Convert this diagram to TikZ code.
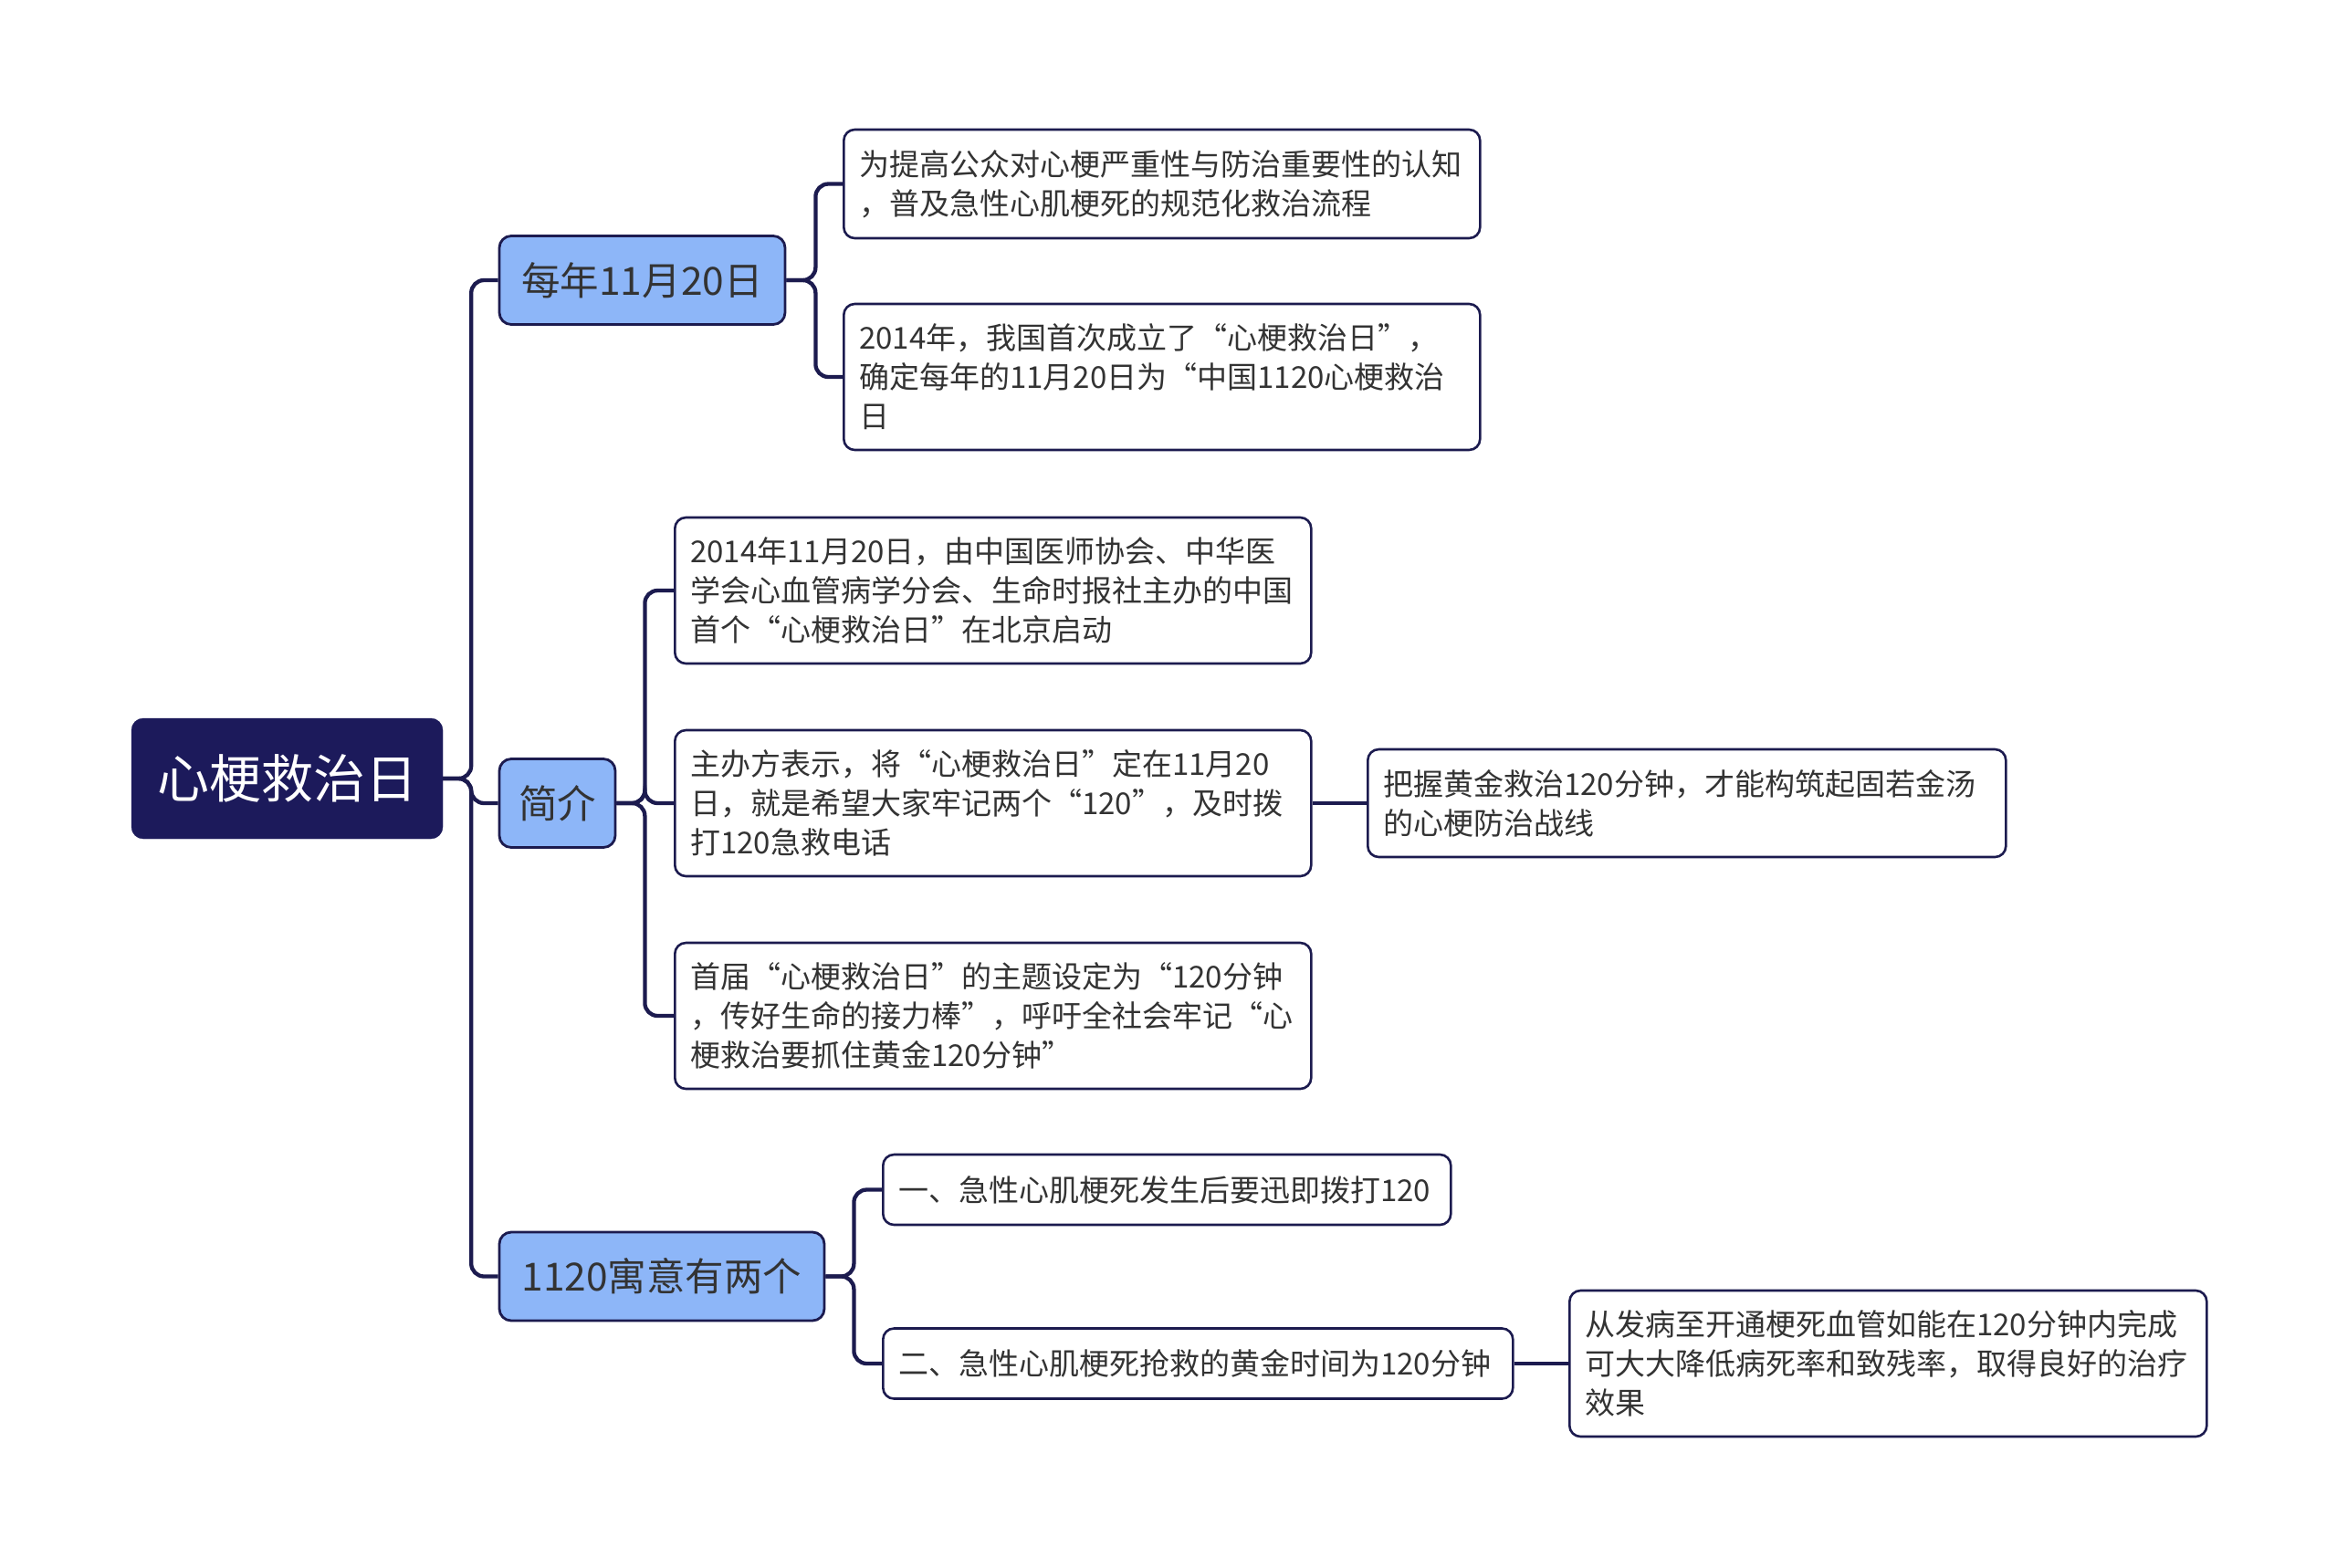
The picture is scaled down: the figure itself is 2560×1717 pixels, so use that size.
\documentclass[tikz,border=0pt]{standalone}
\usepackage{fontspec}
\setmainfont{Noto Sans CJK SC}
\definecolor{rootc}{HTML}{1C1A5B}
\definecolor{linec}{HTML}{1C1B4F}
\definecolor{bluec}{HTML}{8DB6F8}
\definecolor{txtc}{HTML}{333333}
\begin{document}
\begin{tikzpicture}[x=1pt,y=-1pt,
  rootbox/.style={rectangle, rounded corners=13pt, fill=rootc, draw=rootc, text=white,
    font=\fontsize{57}{68}\selectfont, inner sep=0pt, minimum width=341pt, minimum height=132pt},
  lvlbox/.style={rectangle, rounded corners=13pt, fill=bluec, draw=linec, line width=2.8pt,
    text=txtc, font=\fontsize{42.5}{50}\selectfont, inner sep=0pt, minimum height=97pt},
  leafbox/.style={rectangle, rounded corners=12pt, fill=white, draw=linec, line width=2.6pt,
    text=txtc, font=\fontsize{33}{43}\selectfont, align=left, inner xsep=17pt, inner ysep=0pt,
    anchor=west},
  conn/.style={draw=linec, line width=4.3pt, rounded corners=14pt}
]
\useasboundingbox[fill=white] (0,0) rectangle (2560,1717);

% root and level 1
\node[rootbox] (root) at (314.5,853) {心梗救治日};
\node[lvlbox, minimum width=313pt] (A) at (703.5,307) {每年11月20日};
\node[lvlbox, minimum width=127pt] (B) at (610.5,880) {简介};
\node[lvlbox, minimum width=356pt] (C) at (725,1398.5) {1120寓意有两个};

% level 2 under A
\node[leafbox, text width=663pt, minimum height=119pt] (A1) at (923,201.5)
  {为提高公众对心梗严重性与防治重要性的认知\\，普及急性心肌梗死的规范化救治流程};
\node[leafbox, text width=663pt, minimum height=160pt] (A2) at (923,413)
  {2014年，我国首次成立了“心梗救治日”，\\确定每年的11月20日为“中国1120心梗救治\\日};

% level 2 under B
\node[leafbox, text width=663pt, minimum height=160pt] (B1) at (738,647)
  {2014年11月20日，由中国医师协会、中华医\\学会心血管病学分会、生命时报社主办的中国\\首个“心梗救治日”在北京启动};
\node[leafbox, text width=663pt, minimum height=160pt] (B2) at (738,880)
  {主办方表示，将“心梗救治日”定在11月20\\日，就是希望大家牢记两个“120”，及时拨\\打120急救电话};
\node[leafbox, text width=663pt, minimum height=160pt] (B3) at (738,1113)
  {首届“心梗救治日”的主题设定为“120分钟\\，传好生命的接力棒”，呼吁全社会牢记“心\\梗救治要抓住黄金120分钟”};
\node[leafbox, text width=665pt, minimum height=118pt] (B2a) at (1497,880)
  {把握黄金救治120分钟，才能构筑起固若金汤\\的心梗防治战线};

% level 2 under C
\node[leafbox, text width=588pt, minimum height=77pt] (C1) at (966,1303.5)
  {一、急性心肌梗死发生后要迅即拨打120};
\node[leafbox, text width=656pt, minimum height=77pt] (C2) at (966,1494)
  {二、急性心肌梗死抢救的黄金时间为120分钟};
\node[leafbox, text width=664pt, minimum height=160pt] (C2a) at (1718,1494)
  {从发病至开通梗死血管如能在120分钟内完成\\可大大降低病死率和致残率，取得良好的治疗\\效果};

% connectors
\draw[conn] (root.east) -- ++(31,0) |- (A.west);
\draw[conn] (root.east) -- ++(31,0) |- (B.west);
\draw[conn] (root.east) -- ++(31,0) |- (C.west);

\draw[conn] (A.east) -- ++(32,0) |- (A1.west);
\draw[conn] (A.east) -- ++(32,0) |- (A2.west);

\draw[conn] (B.east) -- ++(31,0) |- (B1.west);
\draw[conn] (B.east) -- ++(31,0) |- (B2.west);
\draw[conn] (B.east) -- ++(31,0) |- (B3.west);
\draw[conn] (B2.east) -- (B2a.west);

\draw[conn] (C.east) -- ++(31,0) |- (C1.west);
\draw[conn] (C.east) -- ++(31,0) |- (C2.west);
\draw[conn] (C2.east) -- (C2a.west);
\end{tikzpicture}
\end{document}
